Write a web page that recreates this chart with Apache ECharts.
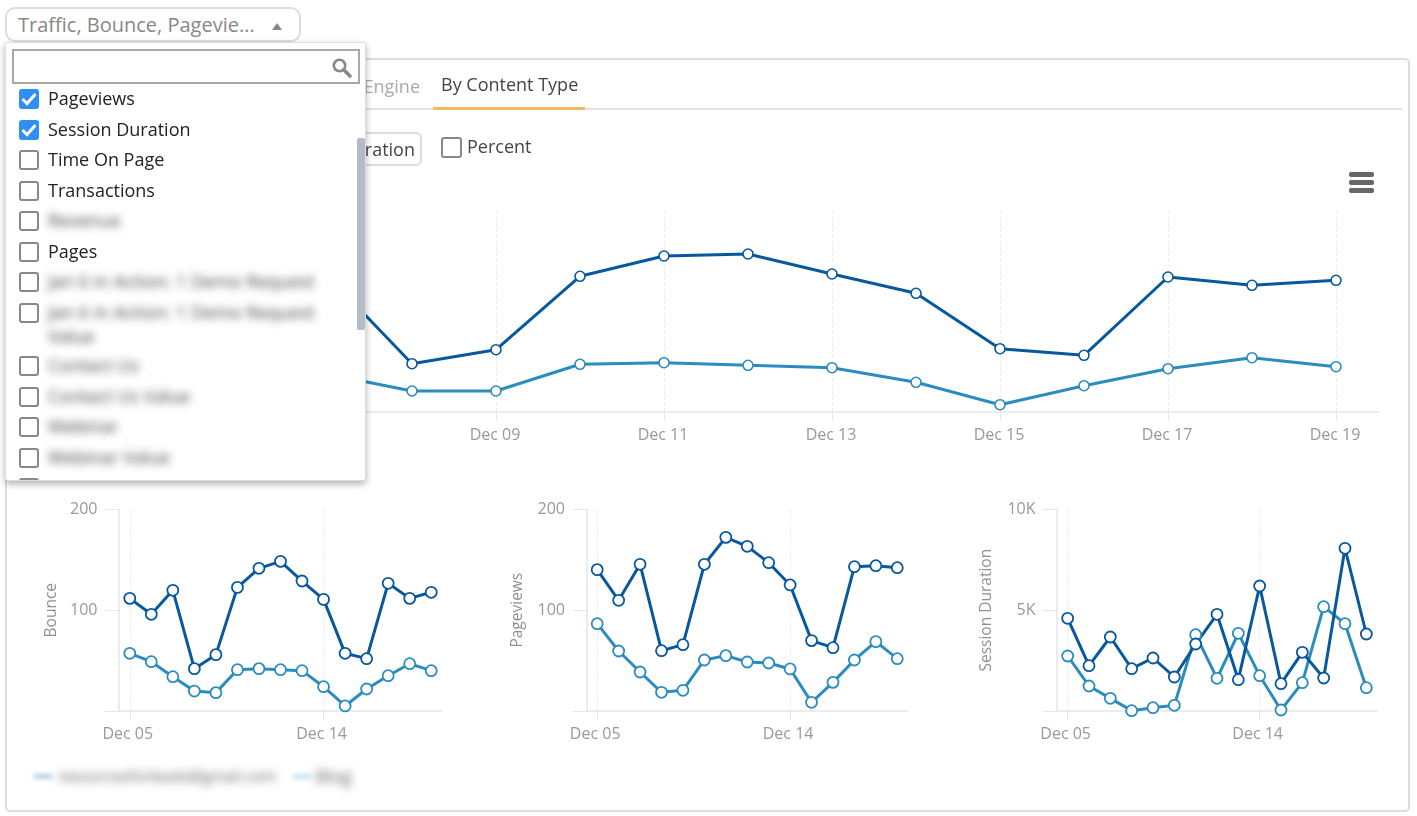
<!DOCTYPE html>
<html lang="en">
<head>
<meta charset="UTF-8">
<title>By Content Type</title>
<script src="https://cdn.jsdelivr.net/npm/echarts@6/dist/echarts.min.js"></script>
<style>
    html, body { margin: 0; padding: 0; background: #fff; overflow: hidden; }
    body { width: 1417px; height: 816px; position: relative; font-family: "Open Sans", sans-serif; color: #444; }
    #panel { position: absolute; left: 5px; top: 58px; width: 1401px; height: 750px; border: 2px solid #ddd; border-radius: 5px; }
    #my-chart { position: absolute; left: 0; top: 0; width: 1417px; height: 816px; }
    .abs { position: absolute; white-space: nowrap; }
    #select-btn { left: 5px; top: 7px; width: 292px; height: 31px; border: 2px solid #ddd; border-radius: 10px; background: #fff; }
    #select-text { left: 18px; top: 11px; font-size: 20px; line-height: 27px; color: #888; }
    #select-arrow { left: 272px; top: 23px; width: 0; height: 0; border-left: 5px solid transparent; border-right: 5px solid transparent; border-bottom: 7px solid #888; }
    #dropdown { left: 5px; top: 42px; width: 359px; height: 437px; background: #fff; border: 1px solid #ddd; border-radius: 3px; box-shadow: 0 3px 7px rgba(0,0,0,.3); overflow: hidden; }
    #search { left: 6px; top: 6px; width: 344px; height: 31px; border: 2px solid #a8a8a8; }
    #scrollbar { left: 351px; top: 95px; width: 8px; height: 192px; background: #b3bcc7; border-radius: 2px; }
    .box { position: absolute; left: 13px; width: 16px; height: 16px; border: 2px solid #888; border-radius: 3px; background: #fff; }
    .box.on { background: #2f8ff3; border-color: #2f8ff3; }
    .item { position: absolute; left: 42px; font-size: 18px; line-height: 24px; color: #222; white-space: nowrap; }
    .item.blur { filter: blur(4.5px); color: #444; }
    #tab-off { right: 997px; top: 73px; font-size: 18px; line-height: 26px; color: #aaa; }
    #tab-on { left: 441px; top: 71px; font-size: 18px; line-height: 26px; color: #444; }
    #tab-line { left: 7px; top: 108px; width: 1395px; height: 2px; background: #e3e3e3; }
    #tab-mark { left: 433px; top: 107px; width: 152px; height: 3px; background: #f5b85f; }
    #metric-btn { left: 200px; top: 132px; width: 218px; height: 30px; border: 2px solid #ddd; border-radius: 6px; font-size: 18px; line-height: 30px; text-align: right; }
    #metric-btn span { margin-right: 5px; }
    #percent-box { left: 441px; top: 137px; width: 17px; height: 17px; border: 2px solid #888; border-radius: 3px; }
    #percent { left: 467px; top: 133px; font-size: 18px; line-height: 26px; }
    .bar { position: absolute; left: 1349px; width: 25px; height: 4.5px; background: #666; border-radius: 2px; }
    .legend-text { color: #666; filter: blur(4px); line-height: 24px; }
    .legend-key { width: 18px; height: 3px; top: 775px; filter: blur(2.5px); }
</style>
</head>
<body>
    <div id="panel"></div>
    <div id="my-chart"></div>

    <div class="abs" id="tab-line"></div>
    <div class="abs" id="tab-mark"></div>
    <div class="abs" id="tab-off">By Search Engine</div>
    <div class="abs" id="tab-on">By Content Type</div>
    <div class="abs" id="metric-btn"><span>Session Duration</span></div>
    <div class="abs" id="percent-box"></div>
    <div class="abs" id="percent">Percent</div>
    <div class="bar" style="top:172px"></div>
    <div class="bar" style="top:180px"></div>
    <div class="bar" style="top:188px"></div>

    <div class="abs legend-key" style="left:34px;background:#7fb0dc"></div>
    <div class="abs legend-text" style="left:58px;top:764px;font-size:15.5px">resourcesforleads@gmail.com</div>
    <div class="abs legend-key" style="left:293px;background:#9fd0ea"></div>
    <div class="abs legend-text" style="left:315px;top:764px;font-size:18px">Blog</div>

    <div class="abs" id="select-btn"></div>
    <div class="abs" id="select-text">Traffic, Bounce, Pagevie...</div>
    <div class="abs" id="select-arrow"></div>
    <div class="abs" id="dropdown">
        <div class="abs" id="search"></div>
        <svg class="abs" style="left:325px;top:14px" width="22" height="22" viewBox="0 0 22 22">
            <circle cx="8.5" cy="8.5" r="5.7" fill="none" stroke="#888" stroke-width="2.6"/>
            <line x1="13" y1="13" x2="19" y2="19" stroke="#888" stroke-width="3.6" stroke-linecap="round"/>
        </svg>
        <div id="filter-list"></div>
        <div class="abs" id="scrollbar"></div>
    </div>

    <script>
        // chart data
        const days = ['Dec 05', 'Dec 06', 'Dec 07', 'Dec 08', 'Dec 09', 'Dec 10', 'Dec 11', 'Dec 12', 'Dec 13', 'Dec 14', 'Dec 15', 'Dec 16', 'Dec 17', 'Dec 18', 'Dec 19'];
        const seriesNames = ['resourcesforleads@gmail.com', 'Blog'];

        // first three days of traffic sit behind the dropdown
        const trafficDark = [128, 104, 135, 47.6, 61.6, 135, 155.3, 157.3, 137.3, 118, 62.6, 56, 134.3, 126, 131];
        const trafficLight = [62, 52, 37, 20.3, 20.3, 47, 48.6, 46, 43.6, 29, 6.6, 25.6, 42.6, 53.6, 44.6];
        const bounceDark = [111.7, 95.9, 119.7, 42, 55.9, 122.6, 141.5, 148.4, 128.9, 110.7, 57.2, 51.9, 126.6, 111.7, 117.7];
        const bounceLight = [57.2, 48.9, 34, 19.8, 18.2, 41, 42, 41, 40, 24.1, 5, 21.8, 35, 46.9, 40];
        const pageviewsDark = [140.2, 109.8, 145.5, 59.8, 65.8, 145.5, 172.2, 163.3, 147.1, 125, 69.8, 62.8, 143.1, 144.1, 142.1];
        const pageviewsLight = [86.6, 59.5, 38.7, 18.5, 20.5, 50.6, 54.9, 48.6, 47.6, 41.7, 8.6, 28.4, 50.6, 68.8, 51.9];
        const durationDark = [4595, 2248, 3669, 2099, 2628, 1686, 3322, 4793, 1554, 6198, 1355, 2909, 1636, 8066, 3818];
        const durationLight = [2727, 1240, 628, 17, 165, 281, 3785, 1620, 3851, 1752, 50, 1405, 5174, 4331, 1157];

        const filterItems = [
            { name: 'Pageviews', top: 43, on: true },
            { name: 'Session Duration', top: 74, on: true },
            { name: 'Time On Page', top: 104 },
            { name: 'Transactions', top: 135 },
            { name: 'Revenue', top: 165, blur: true },
            { name: 'Pages', top: 196 },
            { name: 'Jan 6 in Action: 1 Demo Request', top: 226, blur: true },
            { name: 'Jan 6 in Action: 1 Demo Request<br>Value', top: 257, blur: true },
            { name: 'Contact Us', top: 310, blur: true },
            { name: 'Contact Us Value', top: 341, blur: true },
            { name: 'Webinar', top: 371, blur: true },
            { name: 'Webinar Value', top: 402, blur: true },
            { name: '', top: 432 },
        ];

        let listHtml = '';
        filterItems.forEach(item => {
            let tick = item.on ? '<svg width="16" height="16" viewBox="0 0 16 16" style="display:block"><path d="M1.5 8 L6 12.5 L14.5 3" fill="none" stroke="#fff" stroke-width="3"/></svg>' : '';
            listHtml += `<div class="box${item.on ? ' on' : ''}" style="top:${item.top + 3}px">${tick}</div>`;
            listHtml += `<div class="item${item.blur ? ' blur' : ''}" style="top:${item.top}px">${item.name}</div>`;
        });
        document.getElementById('filter-list').innerHTML = listHtml;

        const darkColor = '#08589e';
        const lightColor = '#2b8cbe';
        const axisColor = '#e6e6e6';
        const labelColor = '#999';

        // one grid per metric
        const panels = [
            { name: 'Traffic', dark: trafficDark, light: trafficLight, left: 118, right: 1378, top: 210.3, bottom: 411.3, every: 1, step: 100, max: 201, gap: 59, dot: 10, ring: 1.6, margin: 16, nudge: 2 },
            { name: 'Bounce', dark: bounceDark, light: bounceLight, left: 119, right: 442, top: 509.33, bottom: 711, every: 8, step: 100, max: 200, gap: 59, dot: 11, ring: 1.8, margin: 15, nudge: 4 },
            { name: 'Pageviews', dark: pageviewsDark, light: pageviewsLight, left: 586.5, right: 908, top: 509.33, bottom: 711, every: 8, step: 100, max: 200, gap: 61, dot: 11, ring: 1.8, margin: 15, nudge: 4 },
            { name: 'Session Duration', dark: durationDark, light: durationLight, left: 1057, right: 1377, top: 509.33, bottom: 711, every: 8, step: 5000, max: 10000, gap: 62, dot: 11, ring: 1.8, margin: 15, nudge: 4 },
        ];

        function lineSeries(name, values, color, index, p) {
            return {
                name: name,
                type: 'line',
                xAxisIndex: index,
                yAxisIndex: index,
                data: values,
                symbol: 'circle',
                symbolSize: p.dot,
                showAllSymbol: true,
                lineStyle: { color: color, width: 3 },
                itemStyle: { color: '#fff', borderColor: color, borderWidth: p.ring },
            };
        }

        let grids = [], xAxes = [], yAxes = [], series = [];
        panels.forEach((p, i) => {
            grids.push({ left: p.left, top: p.top, width: p.right - p.left, height: p.bottom - p.top, containLabel: false });
            xAxes.push({
                type: 'category',
                gridIndex: i,
                data: days,
                boundaryGap: true,
                axisLine: { lineStyle: { color: axisColor, width: 1.5 } },
                axisTick: { show: true, alignWithLabel: true, interval: p.every, length: 9, lineStyle: { color: axisColor, width: 1 } },
                axisLabel: { interval: p.every, color: labelColor, fontSize: 16, margin: p.margin, padding: [0, p.nudge, 0, 0], fontFamily: 'Open Sans' },
                splitLine: { show: true, alignWithLabel: true, interval: p.every, lineStyle: { color: '#eeeeee', type: 'dashed', width: 1 } },
            });
            yAxes.push({
                type: 'value',
                gridIndex: i,
                min: 0,
                max: p.max,
                interval: p.step,
                name: p.name,
                nameLocation: 'middle',
                nameGap: p.gap,
                nameTextStyle: { color: '#909090', fontSize: 15.5, fontFamily: 'Open Sans' },
                axisLine: { show: true, lineStyle: { color: axisColor, width: 1.5 } },
                axisTick: { show: true, length: 14, lineStyle: { color: axisColor, width: 1 } },
                axisLabel: {
                    color: labelColor,
                    fontSize: 16,
                    margin: 21.5,
                    padding: [4, 0, 0, 0],
                    fontFamily: 'Open Sans',
                    formatter: function (v) {
                        if (v === 0) return '';
                        return v >= 1000 ? (v / 1000) + 'K' : String(v);
                    },
                },
                splitLine: { show: false },
            });
            series.push(lineSeries(seriesNames[1], p.light, lightColor, i, p));
            series.push(lineSeries(seriesNames[0], p.dark, darkColor, i, p));
        });

        const myChart = echarts.init(document.getElementById('my-chart'));
        myChart.setOption({
            animation: false,
            grid: grids,
            xAxis: xAxes,
            yAxis: yAxes,
            series: series,
        });
    </script>
</body>
</html>
